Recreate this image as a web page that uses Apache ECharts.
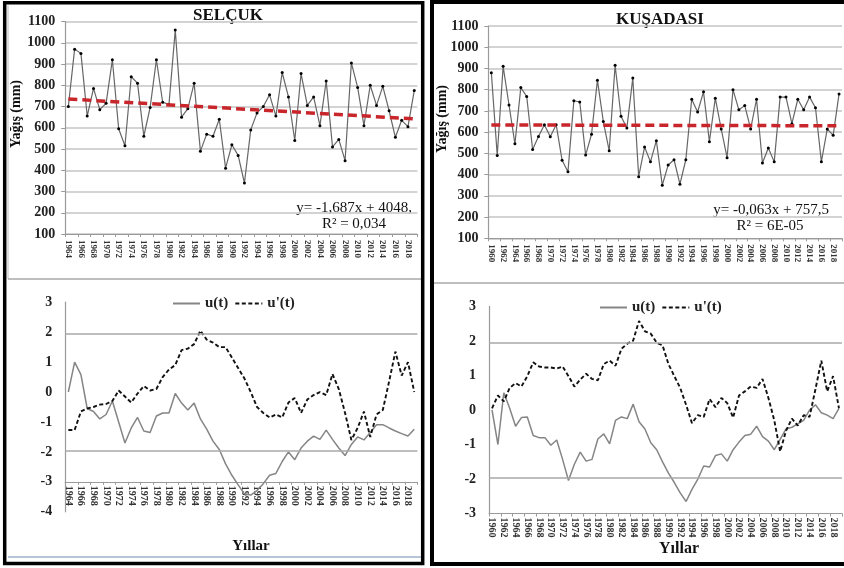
<!DOCTYPE html>
<html>
<head>
<meta charset="utf-8">
<script src="https://cdn.jsdelivr.net/npm/echarts@6/dist/echarts.min.js"></script>
<style>html,body{margin:0;padding:0;background:#fff}#c{width:844px;height:568px}</style>
</head>
<body>
<div id="c"></div>
<script>
// ---------- DATA ----------
const selYears = ['1964','1965','1966','1967','1968','1969','1970','1971','1972','1973','1974','1975','1976','1977','1978','1979','1980','1981','1982','1983','1984','1985','1986','1987','1988','1989','1990','1991','1992','1993','1994','1995','1996','1997','1998','1999','2000','2001','2002','2003','2004','2005','2006','2007','2008','2009','2010','2011','2012','2013','2014','2015','2016','2017','2018','2019'];
const selRain = [700,970,950,655,785,685,715,920,595,515,840,810,560,695,920,720,710,1060,650,690,810,490,570,560,640,410,520,470,340,590,670,700,755,655,860,745,540,855,705,745,610,820,510,545,445,905,790,610,800,705,795,680,555,635,605,775];
const selTrend = [['1964',735],['2019',642]];
const selU = [0,1.0,0.58,-0.55,-0.65,-0.9,-0.75,-0.3,-1.0,-1.7,-1.2,-0.85,-1.3,-1.35,-0.8,-0.7,-0.7,-0.05,-0.37,-0.6,-0.37,-0.9,-1.24,-1.64,-1.92,-2.4,-2.78,-3.1,-3.4,-3.44,-3.29,-3.06,-2.78,-2.72,-2.32,-2.0,-2.26,-1.87,-1.64,-1.47,-1.58,-1.27,-1.58,-1.87,-2.12,-1.75,-1.5,-1.6,-1.35,-1.09,-1.09,-1.2,-1.3,-1.39,-1.47,-1.24];
const selUp = [-1.27,-1.27,-0.65,-0.55,-0.5,-0.42,-0.4,-0.3,0.05,-0.15,-0.35,-0.05,0.2,0.05,0.1,0.5,0.75,0.9,1.4,1.45,1.6,2.05,1.75,1.65,1.5,1.5,1.15,0.8,0.45,0.0,-0.5,-0.7,-0.85,-0.75,-0.85,-0.35,-0.2,-0.7,-0.25,-0.1,0.0,-0.1,0.6,0.1,-0.7,-1.6,-1.2,-0.65,-1.5,-0.75,-0.6,0.35,1.35,0.55,1.0,0.0];

const kusYears = ['1960','1961','1962','1963','1964','1965','1966','1967','1968','1969','1970','1971','1972','1973','1974','1975','1976','1977','1978','1979','1980','1981','1982','1983','1984','1985','1986','1987','1988','1989','1990','1991','1992','1993','1994','1995','1996','1997','1998','1999','2000','2001','2002','2003','2004','2005','2006','2007','2008','2009','2010','2011','2012','2013','2014','2015','2016','2017','2018','2019'];
const kusRain = [880,490,910,728,545,810,768,518,580,635,578,635,468,413,748,742,492,590,845,650,512,915,675,620,855,390,530,460,560,350,445,470,355,470,755,695,790,555,760,615,480,800,705,725,615,755,455,525,460,765,765,640,755,705,765,715,460,615,585,780];
const kusTrend = [['1960',634],['2019',630]];
const kusU = [0,-1.0,0.5,0.05,-0.47,-0.22,-0.2,-0.74,-0.8,-0.8,-1.02,-0.87,-1.43,-2.04,-1.57,-1.22,-1.48,-1.43,-0.84,-0.69,-0.98,-0.3,-0.2,-0.25,0.17,-0.34,-0.55,-0.95,-1.15,-1.5,-1.83,-2.1,-2.4,-2.65,-2.3,-2.0,-1.62,-1.65,-1.32,-1.27,-1.48,-1.15,-0.93,-0.74,-0.7,-0.47,-0.77,-0.9,-1.15,-0.85,-0.55,-0.5,-0.4,-0.3,0.0,0.15,-0.08,-0.15,-0.25,0.05];
const kusUp = [0.05,0.42,0.25,0.64,0.78,0.68,0.98,1.38,1.26,1.23,1.23,1.2,1.26,0.98,0.68,0.88,1.05,0.9,0.86,1.33,1.43,1.28,1.77,1.92,2.01,2.58,2.28,2.21,1.95,1.87,1.33,0.98,0.64,0.15,-0.38,-0.15,-0.2,0.32,0.08,0.35,0.2,-0.22,0.42,0.54,0.68,0.64,0.9,0.35,-0.3,-1.2,-0.6,-0.25,-0.45,-0.15,-0.2,0.6,1.43,0.54,0.98,0.05];

const rainTicks = {min:100, max:1100, interval:100};
const mkTicks = {selMin:-4, kusMin:-3, max:3, interval:1};
const sigLevel = [1.96, -1.96];

// ---------- CHART ----------
const F = '"Liberation Serif","Times New Roman",serif';
const chart = echarts.init(document.getElementById('c'), null, {renderer:'canvas'});
const plain = v => String(v);

function topX(idx, data){
  return {gridIndex:idx, type:'category', data:data, boundaryGap:true,
    axisLine:{lineStyle:{color:'#9a9a9a', width:1.2}},
    axisTick:{show:true, length:3, lineStyle:{color:'#9a9a9a'}},
    axisLabel:{rotate:-90, interval:1, margin:6, fontFamily:F, fontWeight:'bold', fontSize:9, color:'#333'}};
}
function topY(idx){
  return {gridIndex:idx, type:'value', min:rainTicks.min, max:rainTicks.max, interval:rainTicks.interval,
    axisLine:{show:true, lineStyle:{color:'#9a9a9a', width:1.2}},
    axisTick:{show:true, length:4, lineStyle:{color:'#9a9a9a'}},
    splitLine:{show:true, lineStyle:{color:'#c4c4c4', width:1.6}},
    axisLabel:{margin:10, formatter:plain, fontFamily:F, fontWeight:'bold', fontSize:14, color:'#222'}};
}
function botX(idx, data, off){
  return {gridIndex:idx, type:'category', data:data, boundaryGap:true, offset:off,
    axisLine:{onZero:false, lineStyle:{color:'#9a9a9a', width:1.2}},
    axisTick:{show:true, length:3, lineStyle:{color:'#9a9a9a'}},
    axisLabel:{rotate:-90, interval:1, margin:4, fontFamily:F, fontWeight:'bold', fontSize:10, color:'#333'}};
}
function botY(idx, mn){
  return {gridIndex:idx, type:'value', min:mn, max:mkTicks.max, interval:mkTicks.interval,
    axisLine:{show:true, lineStyle:{color:'#9a9a9a', width:1.2}},
    axisTick:{show:false}, splitLine:{show:false},
    axisLabel:{margin:13, formatter:plain, fontFamily:F, fontWeight:'bold', fontSize:14, color:'#222'}};
}
function rainSeries(idx, data){
  return {type:'line', xAxisIndex:idx, yAxisIndex:idx, data:data, symbol:'circle', symbolSize:3,
    itemStyle:{color:'#000'}, lineStyle:{color:'#666', width:1.2}, z:3, animation:false};
}
function trendSeries(idx, data){
  return {type:'line', xAxisIndex:idx, yAxisIndex:idx, data:data, symbol:'none',
    lineStyle:{color:'#c9262c', width:3.5, type:[9,5]}, z:4, animation:false};
}
function uSeries(idx, data){
  return {name:'u(t)', type:'line', xAxisIndex:idx, yAxisIndex:idx, data:data, symbol:'none',
    itemStyle:{color:'#858585'},
    lineStyle:{color:'#858585', width:1.5}, z:3, animation:false,
    markLine:{silent:true, symbol:'none', label:{show:false},
      lineStyle:{color:'#a8a8a8', width:1.5, type:'solid'},
      data:sigLevel.map(v=>({yAxis:v}))}};
}
function upSeries(idx, data){
  return {name:"u'(t)", type:'line', xAxisIndex:idx, yAxisIndex:idx, data:data, symbol:'none',
    itemStyle:{color:'#111'},
    lineStyle:{color:'#111', width:1.9, type:[4,2.5]}, z:4, animation:false};
}

const legTxt = {fontFamily:F, fontWeight:'bold', fontSize:15, color:'#222'};
const legCommon = {itemWidth:27, itemHeight:10, itemGap:6, textStyle:legTxt, itemStyle:{opacity:0}, data:['u(t)',"u'(t)"]};
const eqTxt = (x,y,t,align)=>({type:'text', x:x, y:y, style:{text:t, fontFamily:F, fontSize:15, fill:'#111', align:align, verticalAlign:'middle'}});
const bTxt = (x,y,t,sz,rot)=>({type:'text', x:x, y:y, rotation:rot||0, style:{text:t, fontFamily:F, fontWeight:'bold', fontSize:sz, fill:'#111', align:'center', verticalAlign:'middle'}});

chart.setOption({
  animation:false,
  grid:[
    {left:65.2, top:21.5, width:352.2, height:212.5},
    {left:488.4, top:26, width:353.6, height:212.3},
    {left:65.2, top:302.2, width:352.2, height:209.6},
    {left:489.1, top:306.4, width:352.8, height:207.2}
  ],
  xAxis:[topX(0, selYears), topX(1, kusYears), botX(2, selYears, -29.95), botX(3, kusYears, 0)],
  yAxis:[topY(0), topY(1), botY(2, mkTicks.selMin), botY(3, mkTicks.kusMin)],
  legend:[
    Object.assign({left:167, top:291}, legCommon),
    Object.assign({left:594, top:295}, legCommon)
  ],
  series:[
    rainSeries(0, selRain), trendSeries(0, selTrend),
    rainSeries(1, kusRain), trendSeries(1, kusTrend),
    uSeries(2, selU), upSeries(2, selUp),
    uSeries(3, kusU), upSeries(3, kusUp)
  ],
  graphic:[
    {type:'rect', shape:{x:4.7, y:2.8, width:418, height:560.7}, style:{fill:'none', stroke:'#000', lineWidth:3.5}, z:100},
    {type:'rect', shape:{x:432, y:2, width:418, height:562}, style:{fill:'none', stroke:'#000', lineWidth:4}, z:100},
    {type:'line', shape:{x1:8, y1:5.5, x2:8, y2:279}, style:{stroke:'#bbb', lineWidth:1}, z:99},
    {type:'line', shape:{x1:8, y1:279, x2:421, y2:279}, style:{stroke:'#a9a9a9', lineWidth:1.5}, z:99},
    {type:'line', shape:{x1:8, y1:557, x2:421, y2:557}, style:{stroke:'#9fb3c8', lineWidth:1.5}, z:99},
    {type:'line', shape:{x1:434, y1:283, x2:844, y2:283}, style:{stroke:'#a9a9a9', lineWidth:1.5}, z:99},
    bTxt(228, 16, 'SELÇUK', 17),
    bTxt(660, 20, 'KUŞADASI', 17),
    bTxt(16, 114, 'Yağış (mm)', 14, Math.PI/2),
    bTxt(442, 119, 'Yağış (mm)', 14, Math.PI/2),
    eqTxt(412, 208, 'y= -1,687x + 4048,', 'right'),
    eqTxt(354, 224, 'R² = 0,034', 'center'),
    eqTxt(829, 210, 'y= -0,063x + 757,5', 'right'),
    eqTxt(770, 226, 'R² = 6E-05', 'center'),
    bTxt(251, 546, 'Yıllar', 15),
    bTxt(679, 549, 'Yıllar', 16)
  ]
});
</script>
</body>
</html>
